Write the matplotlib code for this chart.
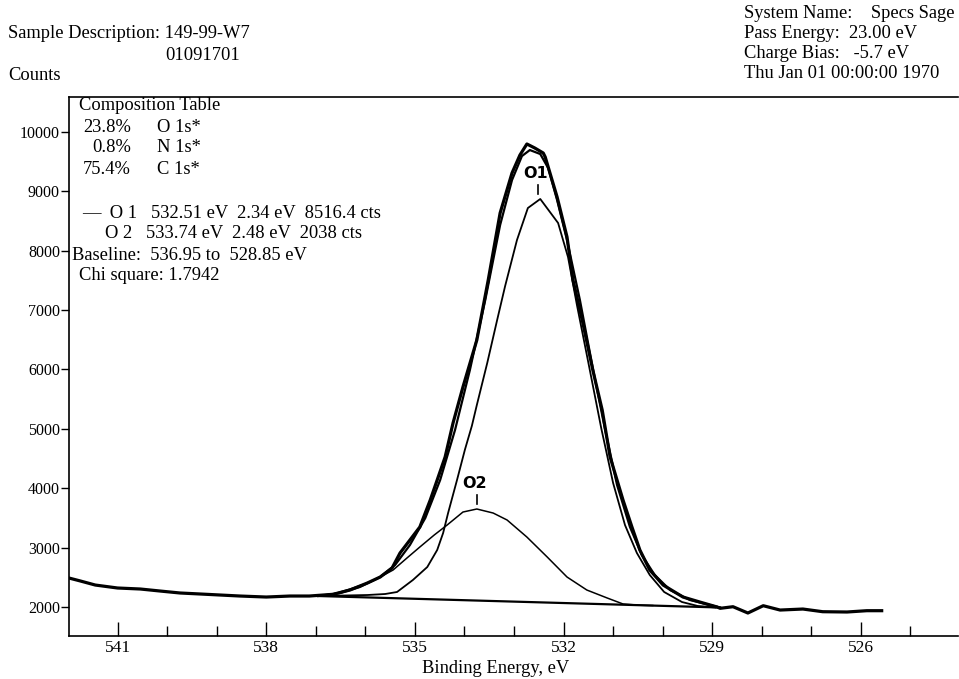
import matplotlib
matplotlib.use("Agg")
import matplotlib.pyplot as plt
from matplotlib.ticker import MultipleLocator, FixedLocator

# measured spectrum (binding energy eV, counts)
raw_be = [541.98, 541.75, 541.45, 541.0, 540.54, 540.14, 539.74, 539.33, 538.93, 538.53,
          538.0, 537.52, 537.13, 536.65, 536.31, 535.96, 535.70, 535.46, 535.30, 535.10,
          534.90, 534.69, 534.55, 534.39, 534.23, 534.03, 533.75, 533.52, 533.28, 533.04,
          532.88, 532.74, 532.58, 532.41, 532.37, 532.13, 531.93, 531.81, 531.61, 531.41,
          531.22, 531.06, 530.80, 530.62, 530.46, 530.26, 529.99, 529.59, 529.25, 528.90,
          528.84, 528.58, 528.28, 527.97, 527.63, 527.17, 526.77, 526.28, 525.88, 525.58]
raw_counts = [2488, 2438, 2370, 2320, 2303, 2269, 2236, 2219, 2202, 2185,
              2168, 2185, 2185, 2214, 2286, 2404, 2505, 2657, 2909, 3128,
              3347, 3801, 4138, 4525, 5098, 5704, 6495, 7505, 8633, 9306,
              9609, 9795, 9727, 9643, 9576, 8902, 8229, 7505, 6781, 5990,
              5316, 4525, 3801, 3347, 2960, 2623, 2370, 2168, 2084, 2000,
              1978, 2005, 1899, 2022, 1949, 1966, 1921, 1916, 1938, 1938]

# fit envelope
env_be = [536.95, 536.51, 536.11, 535.70, 535.40, 535.10, 534.79, 534.49, 534.19, 533.89,
          533.58, 533.28, 533.04, 532.84, 532.68, 532.47, 532.31, 532.13, 531.93, 531.67,
          531.41, 531.16, 530.92, 530.66, 530.42, 530.16, 529.85, 529.45, 529.05, 528.84]
env_counts = [2185, 2236, 2337, 2505, 2707, 3044, 3498, 4138, 4980, 5990,
              7168, 8431, 9188, 9592, 9693, 9626, 9390, 8852, 8178, 7168,
              6024, 4980, 4054, 3347, 2875, 2539, 2286, 2118, 2034, 1992]

# O 1 component
o1_be = [536.95, 536.41, 535.96, 535.60, 535.36, 535.04, 534.75, 534.55, 534.43, 534.33,
         534.15, 533.99, 533.85, 533.75, 533.54, 533.34, 533.18, 532.94, 532.72, 532.47,
         532.11, 531.91, 531.73, 531.49, 531.24, 531.00, 530.76, 530.52, 530.26, 529.97,
         529.61, 529.29, 528.94]
o1_counts = [2185, 2194, 2202, 2219, 2253, 2455, 2673, 2960, 3246, 3582,
             4138, 4650, 5050, 5400, 6108, 6832, 7400, 8178, 8717, 8869,
             8465, 7892, 7084, 6074, 5013, 4088, 3380, 2909, 2539, 2253,
             2084, 2017, 1992]

# O 2 component
o2_be = [536.95, 536.65, 536.31, 535.96, 535.70, 535.44, 535.16, 534.90, 534.61, 534.35,
         534.03, 533.75, 533.42, 533.14, 532.74, 532.33, 531.93, 531.53, 531.12, 530.80,
         530.46, 530.20]
o2_counts = [2185, 2219, 2303, 2404, 2505, 2623, 2825, 3010, 3212, 3380,
             3599, 3650, 3582, 3465, 3178, 2842, 2505, 2286, 2152, 2051,
             2030, 2025]

base_be = [536.95, 528.85]
base_counts = [2185, 1992]

peak_names = ["O1", "O2"]
peak_be = [532.51, 533.74]
peak_top = [8869, 3650]

x_major = [541, 538, 535, 532, 529, 526]
y_major = [2000, 3000, 4000, 5000, 6000, 7000, 8000, 9000, 10000]

plt.rcParams["font.family"] = ["Liberation Serif", "DejaVu Serif"]
fs = 13.3

fig = plt.figure(figsize=(9.59, 6.79), dpi=100)
ax = fig.add_axes([69 / 959, 1 - 636 / 679, 889 / 959, 539 / 679])

ax.plot(raw_be, raw_counts, color="black", lw=2.3, solid_joinstyle="round")
ax.plot(env_be, env_counts, color="black", lw=1.6)
ax.plot(o1_be, o1_counts, color="black", lw=1.3)
ax.plot(o2_be, o2_counts, color="black", lw=1.1)
ax.plot(base_be, base_counts, color="black", lw=1.6)

for name, be, top in zip(peak_names, peak_be, peak_top):
    ax.plot([be, be], [top + 80, top + 230], color="black", lw=1.2)
    ax.text(be + 0.05, top + 300, name, ha="center", va="bottom", fontsize=11.5,
            fontweight="bold", family="DejaVu Sans")

ax.set_xlim(541.98, 524.04)
ax.set_ylim(1512, 10586)
ax.xaxis.set_major_locator(FixedLocator(x_major))
ax.xaxis.set_minor_locator(MultipleLocator(1))
ax.yaxis.set_major_locator(FixedLocator(y_major))
ax.tick_params(axis="x", which="major", direction="in", length=10, width=1, labelsize=12.5, pad=3)
ax.tick_params(axis="x", which="minor", direction="in", length=7, width=1)
ax.tick_params(axis="y", direction="out", length=6, width=1, labelsize=11.5, pad=0.5)
ax.spines["right"].set_visible(False)
for s in ["left", "top", "bottom"]:
    ax.spines[s].set_linewidth(1.2)
ax.set_xlabel("Binding Energy, eV", fontsize=fs)
ax.xaxis.set_label_coords((496 - 69) / 889, -0.044)

# header texts
fig.text(8 / 959, 1 - 33 / 679, "Sample Description: 149-99-W7", fontsize=fs, va="center")
fig.text(165 / 959, 1 - 55 / 679, "01091701", fontsize=fs, va="center")
fig.text(8 / 959, 1 - 76 / 679, "Counts", fontsize=fs, va="center")
right_lines = ["System Name:    Specs Sage", "Pass Energy:  23.00 eV",
               "Charge Bias:   -5.7 eV", "Thu Jan 01 00:00:00 1970"]
for i, line in enumerate(right_lines):
    fig.text(744 / 959, 1 - (14 + 20 * i) / 679, line, fontsize=fs, va="center")

# composition table inside the axes
def px(x, y, s, **kw):
    fig.text(x / 959, 1 - y / 679, s, fontsize=fs, va="center", **kw)

px(79, 106, "Composition Table")
pcts = ["23.8%", "0.8%", "75.4%"]
elems = ["O 1s*", "N 1s*", "C 1s*"]
for i, (p, e) in enumerate(zip(pcts, elems)):
    px(131, 127 + 21 * i, p, ha="right")
    px(157, 127 + 21 * i, e)
px(82, 213, "—  O 1   532.51 eV  2.34 eV  8516.4 cts")
px(105, 234, "O 2   533.74 eV  2.48 eV  2038 cts")
px(72, 255, "Baseline:  536.95 to  528.85 eV")
px(79, 276, "Chi square: 1.7942")

fig.savefig("out.png", dpi=100)
